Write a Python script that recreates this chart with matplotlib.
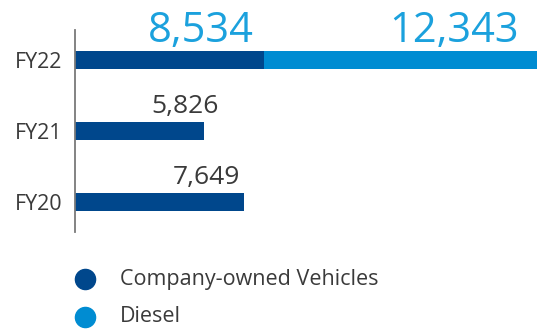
import matplotlib.pyplot as plt

plt.rcParams['font.family'] = ['Open Sans', 'DejaVu Sans']

years = ['FY20', 'FY21', 'FY22']
company_vehicles = [7649, 5826, 8534]
diesel = [0, 0, 12343]
series_names = ['Company-owned Vehicles', 'Diesel']

dark_blue = '#00478C'
light_blue = '#008CD2'
label_blue = '#1BA1DD'
text_grey = '#3A3A3A'

W, H = 552, 336
fig = plt.figure(figsize=(W / 100, H / 100), dpi=100)
# axes spans the pixel box x 75..552, y 30..232
ax = fig.add_axes([75 / W, (H - 232) / H, (W - 75) / W, 202 / H])

pos = list(range(len(years)))
ax.barh(pos, company_vehicles, height=0.254, color=dark_blue)
ax.barh(pos, diesel, left=company_vehicles, height=0.254, color=light_blue)

ax.set_xlim(0, 21535)
ax.set_ylim(-0.4225, 2.4225)
ax.set_yticks(pos)
ax.set_yticklabels(years, fontsize=15.5, color=text_grey)
ax.tick_params(axis='y', length=0, pad=9)
ax.set_xticks([])
for s in ['top', 'right', 'bottom']:
    ax.spines[s].set_visible(False)
ax.spines['left'].set_color('#7a7a7a')
ax.spines['left'].set_linewidth(1.3)

# value labels
for i, v in enumerate(company_vehicles):
    if diesel[i] > 0:
        ax.annotate(f'{v:,}', (v, i + 0.127), xytext=(-10, 9), textcoords='offset pixels',
                    ha='right', va='baseline', fontsize=30, color=label_blue)
        tot = v + diesel[i]
        ax.annotate(f'{diesel[i]:,}', (tot, i + 0.127), xytext=(-19, 9), textcoords='offset pixels',
                    ha='right', va='baseline', fontsize=30, color=label_blue)
    else:
        dx = 15 if i == 1 else -4
        ax.annotate(f'{v:,}', (v, i + 0.127), xytext=(dx, 9), textcoords='offset pixels',
                    ha='right', va='baseline', fontsize=19, color=text_grey)

# legend
lax = fig.add_axes([0, 0, 1, 1])
lax.set_xlim(0, W)
lax.set_ylim(H, 0)
lax.axis('off')
for name, col, y in zip(series_names, [dark_blue, light_blue], [279, 317]):
    lax.plot([85], [y], 'o', color=col, markersize=14.5)
    lax.text(120, y, name, fontsize=15.5, color=text_grey, va='center', ha='left')

fig.savefig('out.png', dpi=100)
